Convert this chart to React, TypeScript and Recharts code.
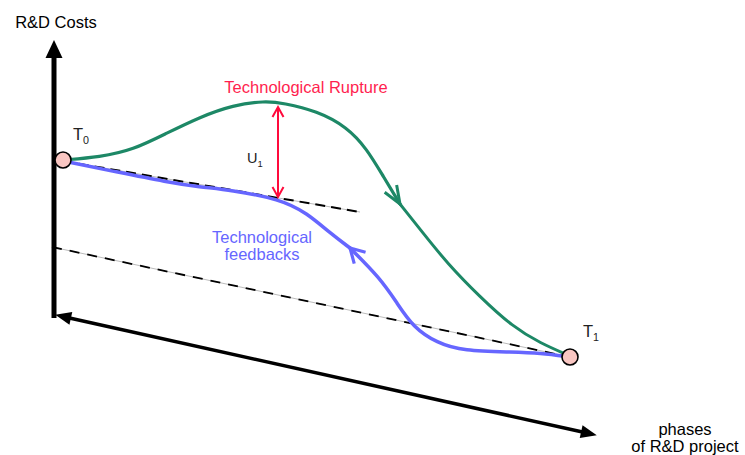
import {ComposedChart, Line, Scatter, XAxis, YAxis} from 'recharts';

// x = position along the project phases, y = R&D cost (drawing units, y grows upward)
const ruptureRise = [
    {x: 63, y: 295},
    {x: 100, y: 298},
    {x: 133, y: 305},
    {x: 167, y: 322},
    {x: 200, y: 338},
    {x: 233, y: 350},
    {x: 265, y: 354},
    {x: 283, y: 352},
    {x: 317, y: 344},
    {x: 347, y: 328},
    {x: 367, y: 306},
    {x: 383, y: 279},
    {x: 400, y: 251},
];
const ruptureFall = [
    {x: 400, y: 251},
    {x: 423, y: 222},
    {x: 447, y: 192},
    {x: 480, y: 158},
    {x: 513, y: 128},
    {x: 540, y: 112},
    {x: 570, y: 99},
];
const feedbackUpper = [
    {x: 63, y: 294},
    {x: 117, y: 283},
    {x: 167, y: 273},
    {x: 200, y: 268},
    {x: 230, y: 265},
    {x: 280, y: 256},
    {x: 307, y: 242},
    {x: 330, y: 222},
    {x: 350, y: 207},
];
const feedbackLower = [
    {x: 350, y: 207},
    {x: 380, y: 177},
    {x: 397, y: 152},
    {x: 413, y: 128},
    {x: 437, y: 112},
    {x: 463, y: 104},
    {x: 513, y: 103},
    {x: 540, y: 102},
    {x: 570, y: 98},
];
const trendUpper = [
    {x: 63, y: 294},
    {x: 360, y: 243},
];
const trendLower = [
    {x: 52, y: 208},
    {x: 570, y: 98},
];
const costAxis = [
    {x: 54, y: 137},
    {x: 54, y: 403},
];
const phaseAxis = [
    {x: 65, y: 138},
    {x: 587, y: 22},
];
const gapU1 = [
    {x: 278, y: 348},
    {x: 278, y: 258},
];
const milestones = [
    {x: 63, y: 295},
    {x: 570, y: 98},
];

const axisTitles = [
    {x: 56, y: 427, text: 'R&D Costs'},
    {x: 685, y: 20, text: 'phases'},
    {x: 685, y: 3, text: 'of R&D project'},
];
const ruptureTitle = [{x: 306, y: 362, text: 'Technological Rupture'}];
const feedbackTitle = [
    {x: 262, y: 212, text: 'Technological'},
    {x: 262, y: 195, text: 'feedbacks'},
];
const milestoneLabels = [
    {x: 73, y: 315, main: 'T', sub: '0'},
    {x: 583, y: 118, main: 'T', sub: '1'},
];
const gapLabels = [{x: 247, y: 292, main: 'U', sub: '1'}];

const GREEN = '#1d8866';
const BLUE = '#6666ff';
const RED = '#ff0a3c';
const FONT = '"Liberation Sans", Arial, sans-serif';

const textShape = (fill: string, size: number) => (p: any) => (
    <text x={p.cx} y={p.cy} textAnchor="middle" fill={fill} fontSize={size} fontFamily={FONT}>
        {p.payload.text}
    </text>
);

const subShape = (size: number) => (p: any) => (
    <text x={p.cx} y={p.cy} fill="#222" fontSize={size} fontFamily={FONT}>
        <tspan>{p.payload.main}</tspan>
        <tspan dy={4} fontSize={size * 0.65}>
            {p.payload.sub}
        </tspan>
    </text>
);

const dotShape = (p: any) => <circle cx={p.cx} cy={p.cy} r={8} fill="#f9c6c2" stroke="#000" strokeWidth={1.6} />;

const lineProps = {
    dataKey: 'y',
    dot: false,
    activeDot: false,
    isAnimationActive: false,
    legendType: 'none' as const,
};

export default function App() {
    return (
        <div style={{position: 'relative', width: 745, height: 455}}>
            <style>{'body{margin:0}'}</style>
            <svg width={0} height={0} style={{position: 'absolute'}}>
                <defs>
                    <marker id="triCost" markerUnits="userSpaceOnUse" markerWidth={18} markerHeight={17}
                            viewBox="0 0 18 17" refX={6} refY={8.5} orient="auto" overflow="visible">
                        <path d="M0,0 L18,8.5 L0,17 z" fill="#000" />
                    </marker>
                    <marker id="triPhase" markerUnits="userSpaceOnUse" markerWidth={16} markerHeight={13}
                            viewBox="0 0 16 13" refX={6} refY={6.5} orient="auto-start-reverse" overflow="visible">
                        <path d="M0,0 L16,6.5 L0,13 z" fill="#000" />
                    </marker>
                    <marker id="chevGreen" markerUnits="userSpaceOnUse" markerWidth={18} markerHeight={14}
                            viewBox="0 0 18 14" refX={18} refY={7} orient="auto" overflow="visible">
                        <path d="M0,0 L18,7 L0,14" fill="none" stroke={GREEN} strokeWidth={3} />
                    </marker>
                    <marker id="chevBlue" markerUnits="userSpaceOnUse" markerWidth={14} markerHeight={16}
                            viewBox="0 0 14 16" refX={14} refY={8} orient="auto-start-reverse" overflow="visible">
                        <path d="M0,0 L14,8 L0,16" fill="none" stroke={BLUE} strokeWidth={3.2} />
                    </marker>
                    <marker id="chevRed" markerUnits="userSpaceOnUse" markerWidth={10} markerHeight={11}
                            viewBox="0 0 10 11" refX={10} refY={5.5} orient="auto-start-reverse" overflow="visible">
                        <path d="M0,0 L10,5.5 L0,11" fill="none" stroke={RED} strokeWidth={2} />
                    </marker>
                </defs>
            </svg>
            <ComposedChart width={745} height={455} margin={{top: 0, right: 0, bottom: 0, left: 0}}>
                <XAxis type="number" dataKey="x" domain={[0, 745]} allowDataOverflow hide />
                <YAxis type="number" dataKey="y" domain={[0, 455]} allowDataOverflow hide />

                <Line {...lineProps} data={trendUpper} type="linear" stroke="#aaa" strokeWidth={0.8} />
                <Line {...lineProps} data={trendUpper} type="linear" stroke="#000" strokeWidth={2} strokeDasharray="10 6" />
                <Line {...lineProps} data={trendLower} type="linear" stroke="#aaa" strokeWidth={0.8} />
                <Line {...lineProps} data={trendLower} type="linear" stroke="#000" strokeWidth={1.8} strokeDasharray="10 8" />

                <Line {...lineProps} data={costAxis} type="linear" stroke="#000" strokeWidth={5} markerEnd="url(#triCost)" />
                <Line {...lineProps} data={phaseAxis} type="linear" stroke="#000" strokeWidth={3.5}
                      markerStart="url(#triPhase)" markerEnd="url(#triPhase)" />

                <Line {...lineProps} data={ruptureRise} type="basis" stroke={GREEN} strokeWidth={3.2}
                      strokeLinecap="round" markerEnd="url(#chevGreen)" />
                <Line {...lineProps} data={ruptureFall} type="basis" stroke={GREEN} strokeWidth={3}
                      strokeLinecap="round" />
                <Line {...lineProps} data={feedbackUpper} type="basis" stroke={BLUE} strokeWidth={3.5}
                      strokeLinecap="round" />
                <Line {...lineProps} data={feedbackLower} type="basis" stroke={BLUE} strokeWidth={3.5}
                      strokeLinecap="round" markerStart="url(#chevBlue)" />

                <Line {...lineProps} data={gapU1} type="linear" stroke={RED} strokeWidth={2}
                      markerStart="url(#chevRed)" markerEnd="url(#chevRed)" />

                <Scatter data={milestones} shape={dotShape} isAnimationActive={false} legendType="none" />
                <Scatter data={axisTitles} shape={textShape('#000', 16.5)} isAnimationActive={false} legendType="none" />
                <Scatter data={ruptureTitle} shape={textShape('#ff1f4f', 16.5)} isAnimationActive={false} legendType="none" />
                <Scatter data={feedbackTitle} shape={textShape(BLUE, 16.5)} isAnimationActive={false} legendType="none" />
                <Scatter data={milestoneLabels} shape={subShape(16.5)} isAnimationActive={false} legendType="none" />
                <Scatter data={gapLabels} shape={subShape(14.5)} isAnimationActive={false} legendType="none" />
            </ComposedChart>
        </div>
    );
}
